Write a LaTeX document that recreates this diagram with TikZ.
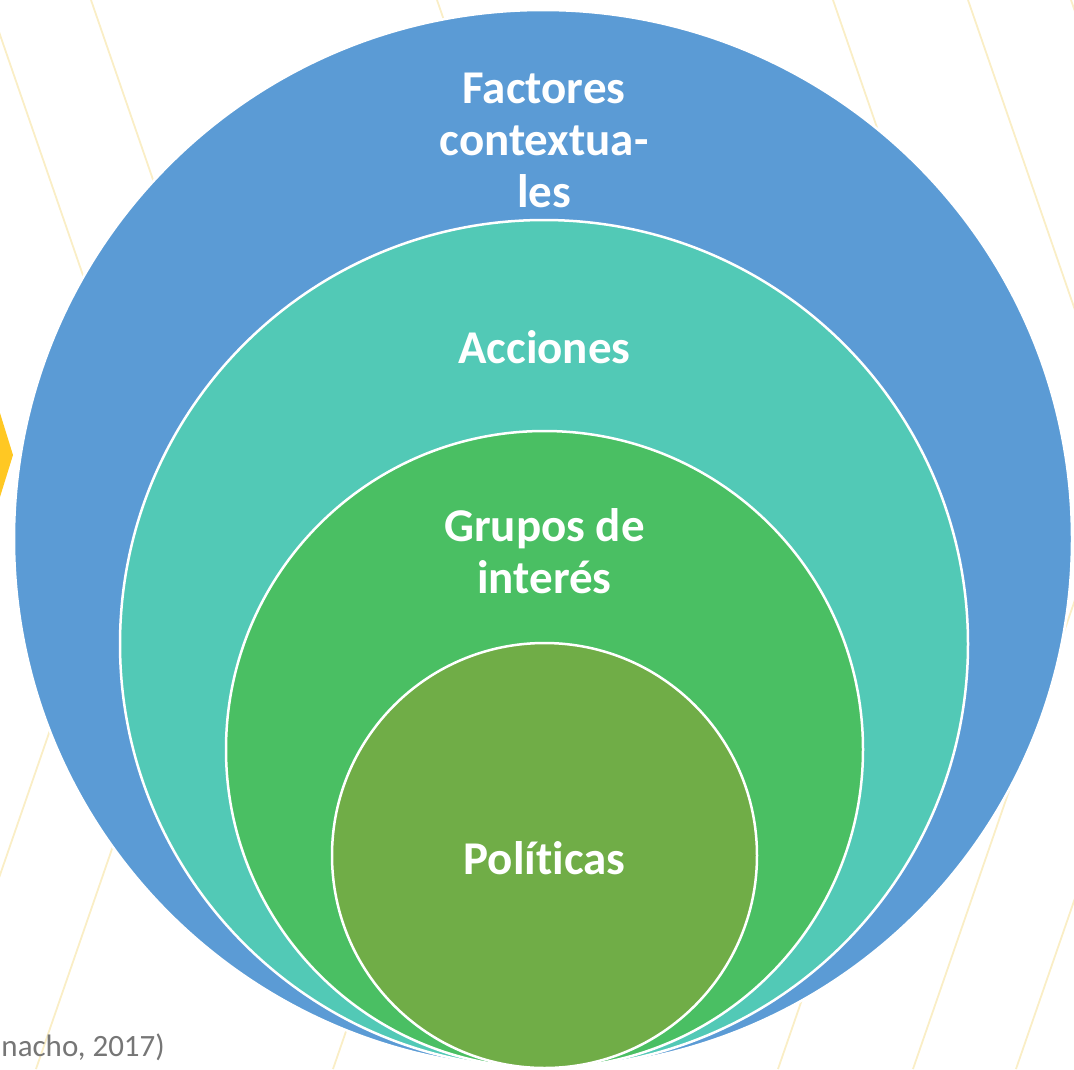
\documentclass[tikz,border=0pt]{standalone}
\usepackage{fontspec}
\setmainfont[Ligatures={NoCommon}]{Carlito}
\definecolor{cblue}{RGB}{91,155,213}
\definecolor{cteal}{RGB}{82,201,182}
\definecolor{cgreen}{RGB}{74,191,99}
\definecolor{colive}{RGB}{112,173,71}
\definecolor{cyel}{RGB}{255,200,35}
\definecolor{cpale}{RGB}{250,238,198}
\definecolor{cgray}{RGB}{118,118,118}
\tikzset{
  ring/.style={circle, draw=white, line width=2.5pt, inner sep=0pt, outer sep=0pt},
  lbl/.style={text=white, font=\fontsize{47}{52}\selectfont\bfseries, align=center, inner sep=0pt, anchor=base},
  bgline/.style={draw=cpale, line width=1.8pt},
}
\begin{document}
\begin{tikzpicture}[x=1pt, y=-1pt]
\useasboundingbox (0,0) rectangle (1074,1069);
\begin{scope}
\clip (0,0) rectangle (1074,1069);
% background chevrons
\foreach \v in {145,248,990,1125,1228}{
  \draw[bgline] (\v-157,0) -- (\v,455) -- (\v-212,1069);
}
\draw[bgline] (437,0) -- (594,455);
\draw[bgline] (545,455) -- (333,1069);
\fill[cyel] (-20,413) -- (0,413) -- (13,455) -- (0,497) -- (-20,497) -- cycle;
% circles
\node[ring, fill=cblue, minimum size=1058pt] (outer) at (543,539) {};
\node[ring, fill=cteal, minimum size=848pt] (acc) at (544,644) {};
\node[ring, fill=cgreen, minimum size=637pt] (grp) at (544.5,749.5) {};
\node[ring, fill=colive, minimum size=425pt] (pol) at (544.5,855.5) {};
\end{scope}
% labels (anchor = baseline of the last line)
\node[lbl] (tfac) at (544,207) {Factores\\contextua-\\les};
\node[lbl] (tacc) at (544.5,363) {Acciones};
\node[lbl] (tgrp) at (544.5,593) {Grupos de\\interés};
\node[lbl] (tpol) at (544.5,874) {Políticas};
\node[text=cgray, font=\fontsize{31}{37}\selectfont, anchor=base east, inner sep=0pt] (cite) at (165,1056) {nacho, 2017)};
\end{tikzpicture}
\end{document}
